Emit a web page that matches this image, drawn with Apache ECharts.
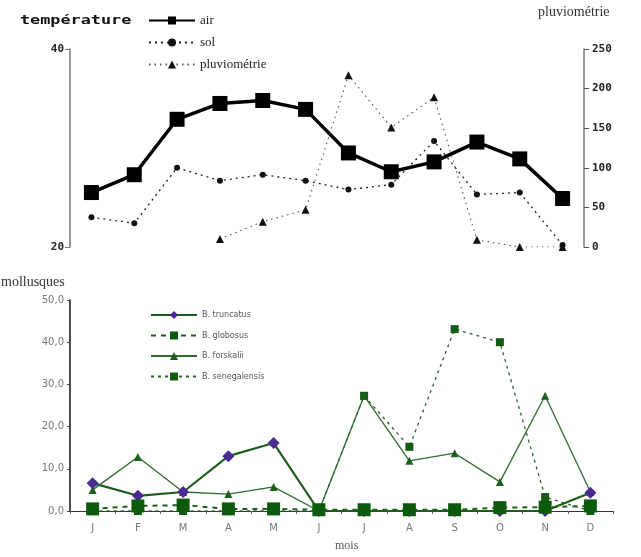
<!DOCTYPE html>
<html>
<head>
<meta charset="utf-8">
<script src="https://cdn.jsdelivr.net/npm/echarts@6/dist/echarts.min.js"></script>
<style>
html,body{margin:0;padding:0;background:#fff;}
#chart{width:641px;height:557px;}
</style>
</head>
<body>
<div id="chart"></div>
<script>
// ---- data ----
const months = ['J','F','M','A','M','J','J','A','S','O','N','D'];
const tempTicks = [20, 40];
const rainTicks = [0, 50, 100, 150, 200, 250];
const air = [25.5, 27.3, 32.9, 34.5, 34.8, 33.9, 29.5, 27.6, 28.6, 30.6, 28.9, 24.9];
const sol = [23.0, 22.4, 28.0, 26.7, 27.3, 26.7, 25.8, 26.3, 30.7, 25.3, 25.5, 20.2];
const pluvio = [null, null, null, 10, 32, 47, 217, 151, 189, 9, 0, 0];
const truncatus = [6.6, 3.6, 4.5, 13.0, 16.1, 0, 0, 0, 0, 0, 0, 4.3];
const globosus = [0.5, 1.2, 1.4, 0.5, 0.5, 0.3, 0.3, 0.3, 0.3, 0.8, 0.9, 1.2];
const forskalii = [5.0, 12.8, 4.5, 4.0, 5.7, 0, 27.3, 11.9, 13.7, 6.9, 27.3, 4.5];
const senegalensis = [0, 0, 0, 0, 0, 0, 27.3, 15.2, 43.1, 40.0, 3.3, 0];
const mollTicks = [0, 10, 20, 30, 40, 50];

const chart = echarts.init(document.getElementById('chart'), null, {renderer: 'canvas'});
const green = '#1d5e1d';
const serif = 'Liberation Serif';
const mono = 'DejaVu Sans Mono';

const option = {
  backgroundColor: '#fff',
  animation: false,
  grid: [
    {left: 70, right: 57, top: 49, height: 198},
    {left: 70, right: 28, top: 300, height: 211}
  ],
  legend: [
    {
      data: ['air', 'sol', 'pluviométrie'],
      left: 143, top: 9, orient: 'vertical', itemGap: 9,
      itemWidth: 46, itemHeight: 10,
      textStyle: {fontFamily: serif, fontSize: 13, color: '#222'}
    },
    {
      data: ['B. truncatus', 'B. globosus', 'B. forskalii', 'B. senegalensis'],
      left: 145, top: 306, orient: 'vertical', itemGap: 12.5,
      itemWidth: 46, itemHeight: 10,
      textStyle: {fontFamily: 'DejaVu Sans', fontSize: 8, color: '#555'}
    }
  ],
  graphic: [
    {type: 'text', x: 20, y: 15, scaleX: 1.4, style: {text: 'température', font: 'bold 12px "DejaVu Sans Mono"', fill: '#111'}},
    {type: 'text', left: 538, top: 5, style: {text: 'pluviométrie', font: '14px "Liberation Serif"', fill: '#333'}},
    {type: 'text', left: 1, top: 275, style: {text: 'mollusques', font: '14px "Liberation Serif"', fill: '#333'}},
    {type: 'text', left: 335, top: 540, style: {text: 'mois', font: '12px "Liberation Serif"', fill: '#555'}}
  ],
  xAxis: [
    {
      type: 'category', data: months, gridIndex: 0, boundaryGap: true,
      show: false
    },
    {
      type: 'category', data: months, gridIndex: 1, boundaryGap: true,
      axisLine: {lineStyle: {color: '#333', width: 1}},
      axisTick: {show: true, length: 3, lineStyle: {color: '#666'}},
      axisLabel: {color: '#777', fontFamily: 'DejaVu Sans', fontSize: 10, margin: 12}
    }
  ],
  yAxis: [
    {
      type: 'value', gridIndex: 0, min: tempTicks[0], max: tempTicks[1], interval: 20,
      position: 'left', splitLine: {show: false},
      axisLine: {show: true, lineStyle: {color: '#777', width: 1.5}},
      axisTick: {show: true, length: 5, lineStyle: {color: '#777'}},
      axisLabel: {fontFamily: mono, fontWeight: 'bold', fontSize: 11, color: '#222', margin: 6}
    },
    {
      type: 'value', gridIndex: 0, min: rainTicks[0], max: rainTicks[rainTicks.length - 1], interval: 50,
      position: 'right', splitLine: {show: false},
      axisLine: {show: true, lineStyle: {color: '#777', width: 1.5}},
      axisTick: {show: true, length: 5, lineStyle: {color: '#555'}},
      axisLabel: {fontFamily: mono, fontWeight: 'bold', fontSize: 11, color: '#222', margin: 8}
    },
    {
      type: 'value', gridIndex: 1, min: mollTicks[0], max: mollTicks[mollTicks.length - 1], interval: 10,
      splitLine: {show: false},
      axisLine: {show: true, lineStyle: {color: '#111', width: 1.5}},
      axisTick: {show: true, length: 3, lineStyle: {color: '#444'}},
      axisLabel: {
        fontFamily: 'DejaVu Sans', fontSize: 10, color: '#777', margin: 6,
        formatter: v => v.toFixed(1).replace('.', ',')
      }
    }
  ],
  series: [
    {
      name: 'air', type: 'line', xAxisIndex: 0, yAxisIndex: 0, data: air,
      symbol: 'rect', symbolSize: 15,
      lineStyle: {color: '#000', width: 3.5},
      itemStyle: {color: '#000'}
    },
    {
      name: 'sol', type: 'line', xAxisIndex: 0, yAxisIndex: 0, data: sol,
      symbol: 'circle', symbolSize: 6,
      lineStyle: {color: '#222', width: 1.3, type: [2, 4]},
      itemStyle: {color: '#111'}
    },
    {
      name: 'pluviométrie', type: 'line', xAxisIndex: 0, yAxisIndex: 1, data: pluvio,
      symbol: 'triangle', symbolSize: 8, connectNulls: false,
      lineStyle: {color: '#555', width: 1.1, type: [1.5, 4]},
      itemStyle: {color: '#111'}
    },
    {
      name: 'B. truncatus', type: 'line', xAxisIndex: 1, yAxisIndex: 2, data: truncatus,
      symbol: 'diamond', symbolSize: 12, z: 4,
      lineStyle: {color: green, width: 2.2},
      itemStyle: {color: '#4a2a90'}
    },
    {
      name: 'B. globosus', type: 'line', xAxisIndex: 1, yAxisIndex: 2, data: globosus,
      symbol: 'rect', symbolSize: 13, z: 6,
      lineStyle: {color: green, width: 2, type: [5, 5]},
      itemStyle: {color: '#0c5a0c'}
    },
    {
      name: 'B. forskalii', type: 'line', xAxisIndex: 1, yAxisIndex: 2, data: forskalii,
      symbol: 'triangle', symbolSize: 8, z: 3,
      lineStyle: {color: '#2f6a2f', width: 1.3},
      itemStyle: {color: '#1d5e1d'}
    },
    {
      name: 'B. senegalensis', type: 'line', xAxisIndex: 1, yAxisIndex: 2, data: senegalensis,
      symbol: 'rect', symbolSize: 8, z: 2,
      lineStyle: {color: '#2f5f2f', width: 1.3, type: [3, 4]},
      itemStyle: {color: '#135a13'}
    }
  ]
};
chart.setOption(option);
</script>
</body>
</html>
